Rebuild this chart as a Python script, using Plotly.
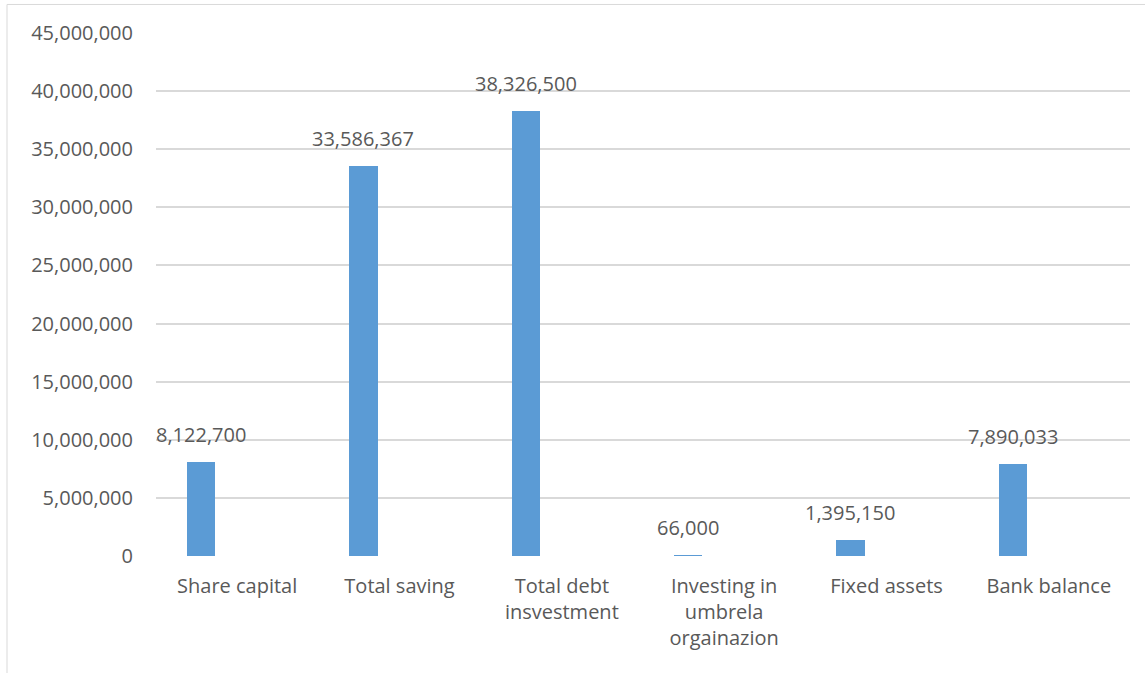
import plotly.graph_objects as go

categories = ["Share capital", "Total saving", "Total debt<br>insvestment",
              "Investing in<br>umbrela<br>orgainazion", "Fixed assets", "Bank balance"]
values = [8122700, 33586367, 38326500, 66000, 1395150, 7890033]
value_labels = ["8,122,700", "33,586,367", "38,326,500", "66,000", "1,395,150", "7,890,033"]
y_ticks = [0, 5000000, 10000000, 15000000, 20000000, 25000000, 30000000, 35000000, 40000000, 45000000]
y_tick_labels = ["0", "5,000,000", "10,000,000", "15,000,000", "20,000,000", "25,000,000",
                 "30,000,000", "35,000,000", "40,000,000", "45,000,000"]

FONT = "Open Sans, Calibri, Carlito, sans-serif"
TXT = "#595959"
FS = 20
BAR_W = 0.175
BAR_OFF = -0.31

fig = go.Figure()
fig.add_trace(go.Bar(
    x=list(range(len(categories))), y=values,
    width=BAR_W, offset=BAR_OFF,
    marker=dict(color="#5B9BD5", line=dict(width=0)),
    hoverinfo="y",
))

for i, (v, lab) in enumerate(zip(values, value_labels)):
    fig.add_annotation(x=i + BAR_OFF + BAR_W / 2, y=v, xref="x", yref="y",
                       text=lab, showarrow=False, yanchor="bottom", yshift=12,
                       font=dict(family=FONT, size=FS, color=TXT))

# outer chart border
fig.add_shape(type="rect", xref="paper", yref="paper",
              x0=(7 - 156) / 974, x1=(1150 - 156) / 974,
              y0=-0.5, y1=(556 - 5) / 522.5,
              line=dict(color="#D9D9D9", width=1), fillcolor="rgba(0,0,0,0)", layer="below")

fig.update_layout(
    width=1145, height=673,
    margin=dict(l=156, r=15, t=33, b=117, pad=0),
    paper_bgcolor="white", plot_bgcolor="white",
    showlegend=False,
    font=dict(family=FONT, size=FS, color=TXT),
    xaxis=dict(
        range=[-0.5, len(categories) - 0.5],
        tickmode="array", tickvals=list(range(len(categories))), ticktext=categories,
        showgrid=False, zeroline=False, showline=False, ticks="",
        ticklabelstandoff=16,
        tickfont=dict(family=FONT, size=FS, color=TXT),
    ),
    yaxis=dict(
        range=[0, 45000000],
        tickmode="array", tickvals=y_ticks, ticktext=y_tick_labels,
        showgrid=True, gridcolor="#D9D9D9", gridwidth=1.5,
        zeroline=False, showline=False, ticks="",
        ticklabelstandoff=22,
        tickfont=dict(family=FONT, size=FS, color=TXT),
    ),
    bargap=0,
)

fig.write_html("out.html", config={"displayModeBar": False},
               post_script="document.body.style.margin='0';")
